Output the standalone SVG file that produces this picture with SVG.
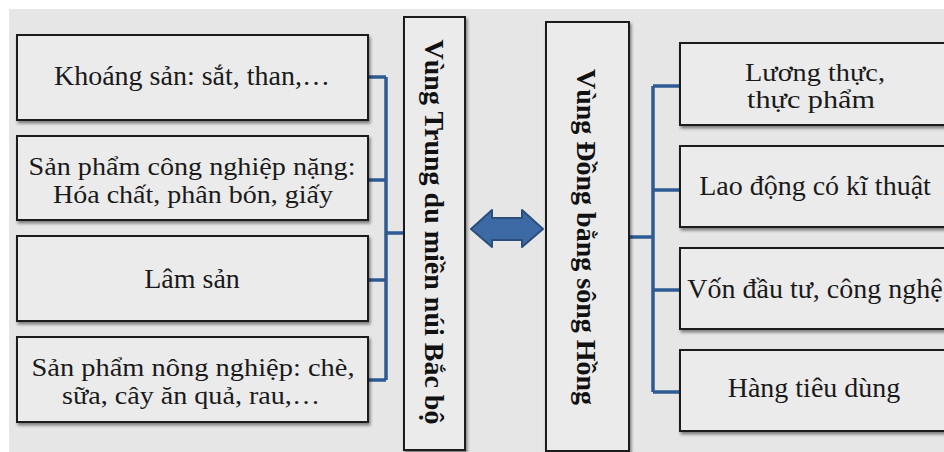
<svg xmlns="http://www.w3.org/2000/svg" width="944" height="452" viewBox="0 0 944 452">
<defs>
<filter id="sh" x="-5%" y="-10%" width="115%" height="130%">
<feDropShadow dx="1.5" dy="2.5" stdDeviation="1.5" flood-color="#000" flood-opacity="0.45"/>
</filter>
<style>
.box{fill:#ebebeb;stroke:#1c1c1c;stroke-width:2;filter:url(#sh);}
.t{font-family:"Liberation Serif","Times New Roman",serif;font-size:28px;fill:#1a1a1a;text-anchor:middle;}
.t2{font-size:26px;}
.v{font-family:"Liberation Serif","Times New Roman",serif;font-size:28px;font-weight:bold;fill:#111;text-anchor:middle;}
.c{fill:none;stroke:#2e5b93;stroke-width:3.5;}
</style>
</defs>
<rect x="0" y="0" width="944" height="452" fill="#ffffff"/>
<rect x="9" y="9" width="935" height="443" fill="#e6e6e6"/>

<g id="connectors">
<path class="c" d="M368,77 H386 M368,180 H386 M368,280 H386 M368,380 H386 M386,77 V380 M386,233 H404"/>
<path class="c" d="M680,86 H653 M680,190 H653 M680,290 H653 M680,392 H653 M653,86 V392 M629,237 H653"/>
<polygon points="471,229 492,210 492,218 522,218 522,210 543,229 522,247 522,240 492,240 492,247" fill="#3d6aa5" stroke="#2b4e7c" stroke-width="2" stroke-linejoin="round"/>
</g>

<g id="n-khoangsan">
<rect class="box" x="17" y="35" width="351" height="85"/>
<text class="t" x="192" y="85">Khoáng sản: sắt, than,…</text>
</g>
<g id="n-congnghiep">
<rect class="box" x="17" y="136" width="351" height="84"/>
<text class="t t2" x="192" y="175" textLength="327" lengthAdjust="spacingAndGlyphs">Sản phẩm công nghiệp nặng:</text>
<text class="t t2" x="193" y="203" textLength="280" lengthAdjust="spacingAndGlyphs">Hóa chất, phân bón, giấy</text>
</g>
<g id="n-lamsan">
<rect class="box" x="17" y="236" width="351" height="85"/>
<text class="t" x="192" y="288">Lâm sản</text>
</g>
<g id="n-nongnghiep">
<rect class="box" x="17" y="337" width="351" height="85"/>
<text class="t t2" x="193" y="376" textLength="323" lengthAdjust="spacingAndGlyphs">Sản phẩm nông nghiệp: chè,</text>
<text class="t t2" x="191" y="404" textLength="258" lengthAdjust="spacingAndGlyphs">sữa, cây ăn quả, rau,…</text>
</g>

<g id="n-trungdu">
<rect class="box" x="404" y="17" width="61" height="433"/>
<text class="v" transform="translate(425,232) rotate(90)" x="0" y="0">Vùng Trung du miền núi Bắc bộ</text>
</g>

<g id="n-dongbang">
<rect class="box" x="546" y="22" width="83" height="429"/>
<text class="v" transform="translate(577,237) rotate(90)" x="0" y="0">Vùng Đồng bằng sông Hồng</text>
</g>

<g id="n-luongthuc">
<rect class="box" x="680" y="43" width="272" height="82"/>
<text class="t t2" x="815" y="81" textLength="140" lengthAdjust="spacingAndGlyphs">Lương thực,</text>
<text class="t t2" x="811" y="108" textLength="128" lengthAdjust="spacingAndGlyphs">thực phẩm</text>
</g>
<g id="n-laodong">
<rect class="box" x="680" y="146" width="272" height="81"/>
<text class="t" x="815" y="195">Lao động có kĩ thuật</text>
</g>
<g id="n-von">
<rect class="box" x="680" y="248" width="272" height="81"/>
<text class="t" x="815" y="298">Vốn đầu tư, công nghệ</text>
</g>
<g id="n-hang">
<rect class="box" x="680" y="350" width="272" height="81"/>
<text class="t" x="814" y="397">Hàng tiêu dùng</text>
</g>
</svg>
